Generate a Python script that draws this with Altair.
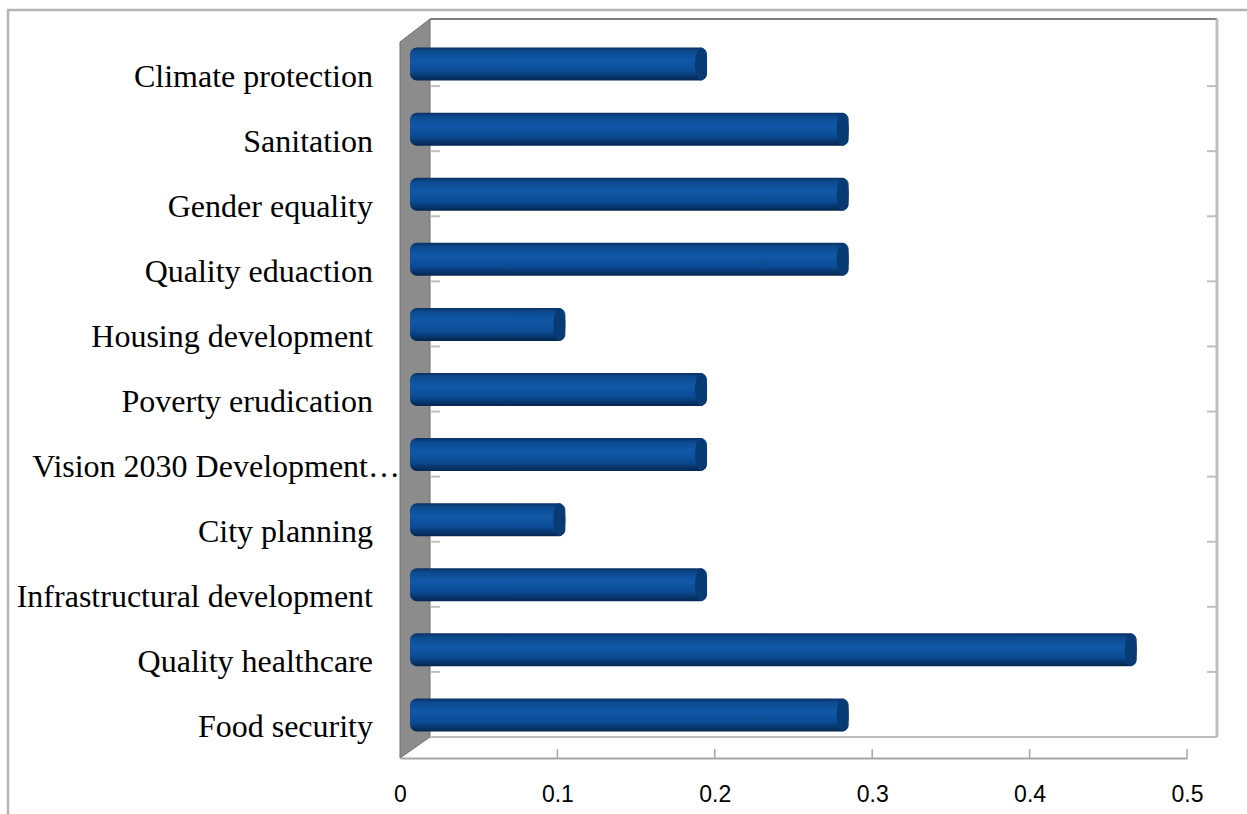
import altair as alt
import pandas as pd

categories = ["Climate protection", "Sanitation", "Gender equality", "Quality eduaction",
              "Housing development", "Poverty erudication", "Vision 2030 Development…",
              "City planning", "Infrastructural development", "Quality healthcare", "Food security"]
values = [0.19, 0.28, 0.28, 0.28, 0.10, 0.19, 0.19, 0.10, 0.19, 0.463, 0.28]
x_ticks = [0, 0.1, 0.2, 0.3, 0.4, 0.5]

df = pd.DataFrame({"category": categories, "value": values})
ticks_df = pd.DataFrame({"value": x_ticks[1:]})
one = pd.DataFrame({"k": [0]})

W, H = 787, 716
VISION = "Vision 2030 Development…"

xscale = alt.Scale(domain=[0, 0.5], nice=False, zero=True)
xenc = alt.X("value:Q", scale=xscale, title=None,
             axis=alt.Axis(values=x_ticks, format="~g", grid=False, ticks=False, tickSize=0,
                           domain=True, domainColor="#a6a6a6", domainWidth=2,
                           labelFlush=False, labelOverlap=False,
                           labelPadding=25, labelFont="Liberation Sans", labelFontSize=23,
                           labelColor="#000000", title=None))
ysc = alt.Scale(paddingInner=0, paddingOuter=0)
yenc = alt.Y("category:N", sort=categories, axis=None, scale=ysc)

def rule(color, width, **enc):
    return alt.Chart(one).mark_rule(color=color, strokeWidth=width).encode(**enc)

frame_top = rule("#b4b4b4", 2.5, x=alt.value(-393), x2=alt.value(847), y=alt.value(-32))
frame_left = rule("#b4b4b4", 2.5, x=alt.value(-392), y=alt.value(-32), y2=alt.value(772))

wall_path = "M -15 -358 L 15 -381 L 15 337 L -15 358 Z"
left_wall = alt.Chart(one).mark_point(shape=wall_path, size=4, filled=True, fill="#8c8c8c",
                                      stroke="#6e6e6e", strokeWidth=1, opacity=1).encode(
    x=alt.value(15), y=alt.value(358))

back_top = rule("#7f7f7f", 2, x=alt.value(30), x2=alt.value(817), y=alt.value(-23))
back_right = rule("#bfbfbf", 3, x=alt.value(817), y=alt.value(-23), y2=alt.value(695))
back_bottom = rule("#a6a6a6", 1.5, x=alt.value(30), x2=alt.value(817), y=alt.value(695))

floor_ticks = alt.Chart(ticks_df).mark_rule(color="#a6a6a6", strokeWidth=1.5).encode(
    x=xenc, y=alt.value(707), y2=alt.value(716))

ytick = alt.Y("category:N", sort=categories, axis=None, scale=ysc, bandPosition=1)
right_ticks = alt.Chart(df).mark_rule(color="#bfbfbf", strokeWidth=2, yOffset=-21).encode(
    y=ytick, x=alt.value(807), x2=alt.value(817))
left_ticks = alt.Chart(df).mark_rule(color="#bfbfbf", strokeWidth=2, yOffset=-21).encode(
    y=ytick, x=alt.value(30), x2=alt.value(40))

grad = alt.Gradient(
    gradient="linear",
    stops=[alt.GradientStop(offset=0, color="#0a3163"),
           alt.GradientStop(offset=0.12, color="#0c4a8f"),
           alt.GradientStop(offset=0.4, color="#1059a8"),
           alt.GradientStop(offset=0.72, color="#0b4b93"),
           alt.GradientStop(offset=1, color="#04264f")],
    x1=0, x2=0, y1=0, y2=1)

bars = alt.Chart(df).mark_bar(height=33, cornerRadius=7, xOffset=8, x2Offset=10, yOffset=-10.5,
                              fill=grad, stroke=None).encode(
    x=xenc, x2=alt.datum(0), y=yenc)

cap_path = "M 0 -16.5 A 6 16.5 0 1 1 0 16.5 A 6 16.5 0 1 1 0 -16.5 Z"
caps = alt.Chart(df).mark_point(shape=cap_path, size=4, filled=True, fill="#083a74",
                                opacity=1, xOffset=2, yOffset=-10.5).encode(
    x=xenc, y=yenc)

labels = alt.Chart(df).transform_filter(alt.datum.category != VISION).mark_text(
    align="right", baseline="middle", font="Liberation Serif", fontSize=32, dy=2,
    color="#000000").encode(y=yenc, x=alt.value(-27), text="category:N")
label_vision = alt.Chart(df).transform_filter(alt.datum.category == VISION).mark_text(
    align="right", baseline="middle", font="Liberation Serif", fontSize=32, dy=2,
    color="#000000").encode(y=yenc, x=alt.value(0), text="category:N")

chart = alt.layer(
    frame_top, frame_left, left_wall, back_top, back_right, back_bottom,
    floor_ticks, right_ticks, left_ticks, bars, caps, labels, label_vision
).properties(
    width=W, height=H,
    autosize=alt.AutoSizeParams(type="none"),
    padding={"left": 400, "top": 42, "right": 60, "bottom": 56},
    background="white",
).configure_view(stroke=None)

chart.save("out.html", embed_options={"renderer": "svg", "actions": False})
